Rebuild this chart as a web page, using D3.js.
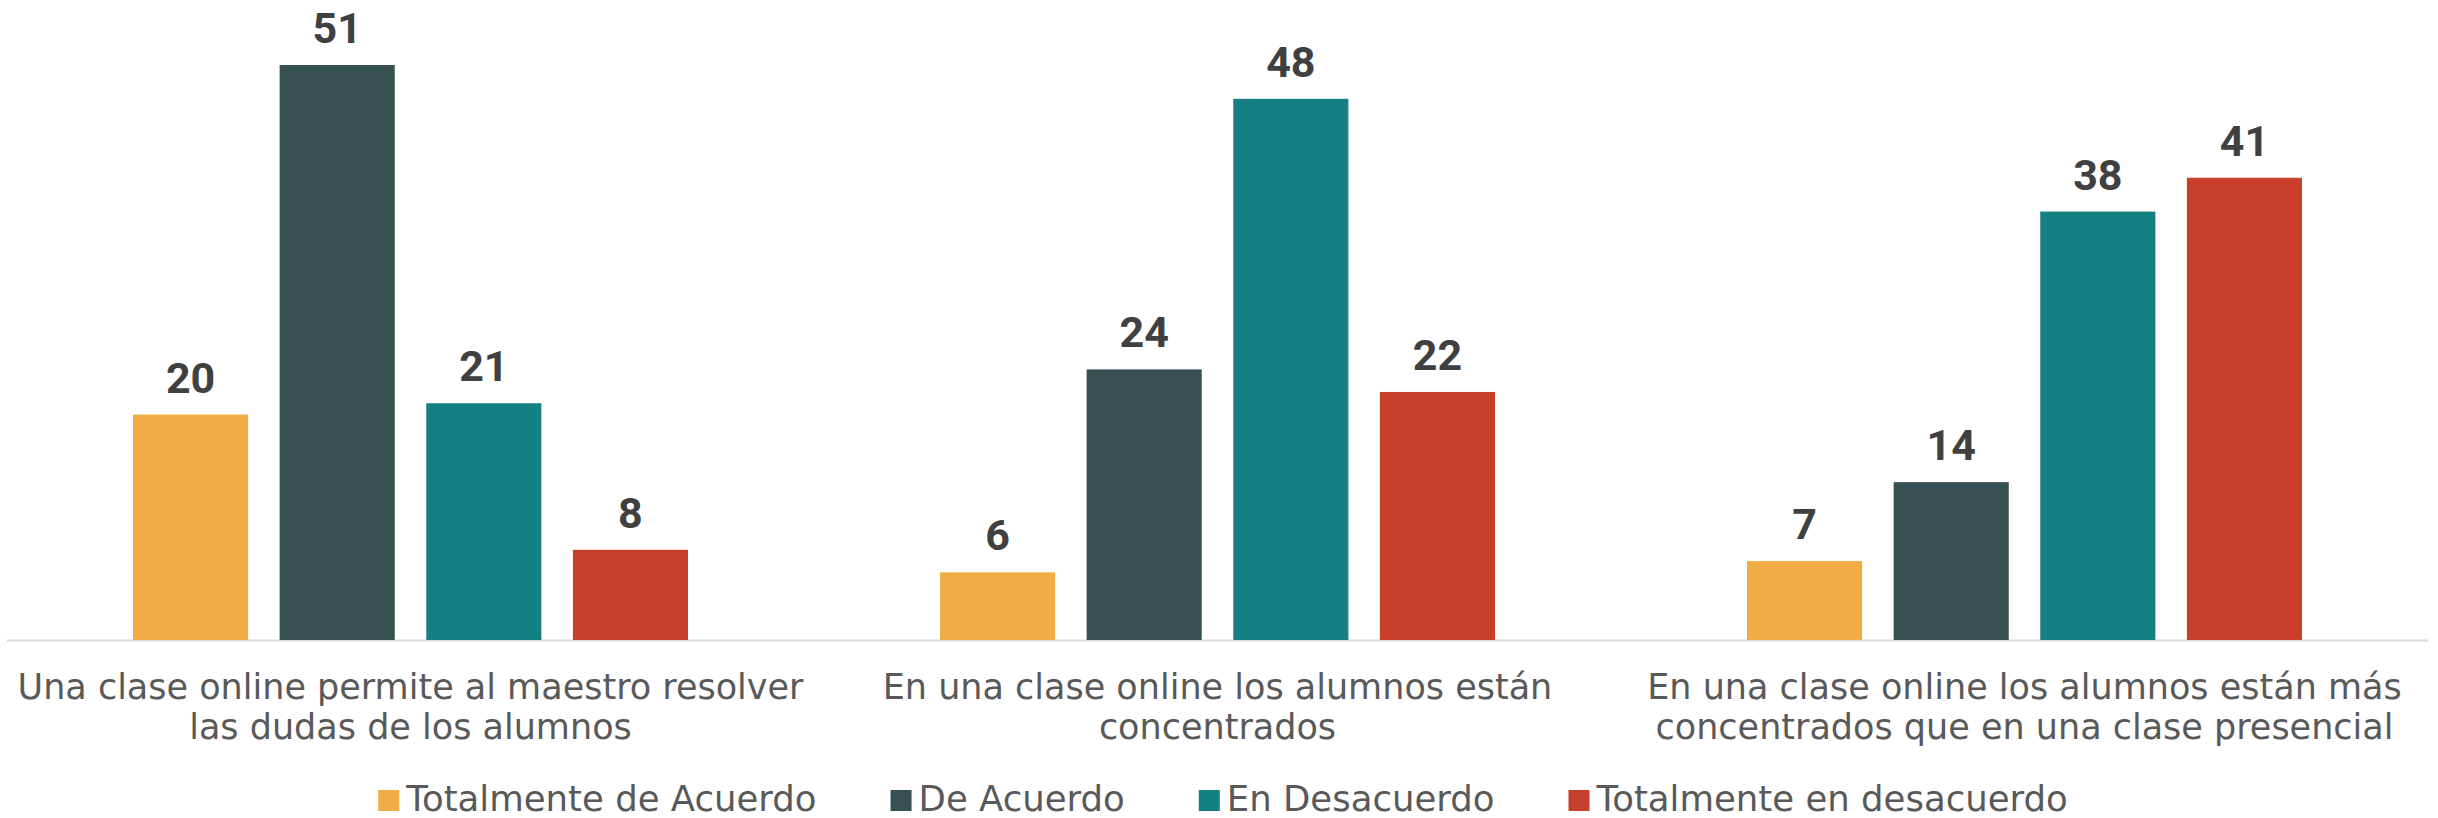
<!DOCTYPE html>
<html>
<head>
<meta charset="utf-8">
<script src="https://cdn.jsdelivr.net/npm/d3@7"></script>
<style>
  body { margin: 0; background: #fff; }
  svg { display: block; }
</style>
</head>
<body>
<div id="chart"></div>
<script>
const categories = [
    ["Una clase online permite al maestro resolver", "las dudas de los alumnos"],
    ["En una clase online los alumnos están", "concentrados"],
    ["En una clase online los alumnos están más", "concentrados que en una clase presencial"]
];
const seriesNames = ["Totalmente de Acuerdo", "De Acuerdo", "En Desacuerdo", "Totalmente en desacuerdo"];
const seriesColors = ["#F0AD45", "#375052", "#148084", "#C8402C"];
const totalmenteAcuerdo = [20, 6, 7];
const deAcuerdo = [51, 24, 14];
const enDesacuerdo = [21, 48, 38];
const totalmenteDesacuerdo = [8, 22, 41];

const seriesValues = [totalmenteAcuerdo, deAcuerdo, enDesacuerdo, totalmenteDesacuerdo];

const width = 2438, height = 818;
const svg = d3.select("#chart").append("svg")
    .attr("width", width)
    .attr("height", height);

const x0 = d3.scaleBand()
    .domain(d3.range(categories.length))
    .range([7, 2428]);

const x1 = d3.scaleBand()
    .domain(d3.range(seriesNames.length))
    .range([126, x0.bandwidth() - 126])
    .paddingInner(0.215);

const y = d3.scaleLinear()
    .domain([0, 51])
    .range([640, 65]);

// baseline
svg.append("line")
    .attr("x1", x0.range()[0]).attr("x2", x0.range()[1])
    .attr("y1", y(0) + 0.5).attr("y2", y(0) + 0.5)
    .attr("stroke", "#d9d9d9")
    .attr("stroke-width", 2);

const groups = svg.selectAll("g.cat")
    .data(categories)
    .join("g")
    .attr("class", "cat")
    .attr("transform", (d, i) => `translate(${x0(i)},0)`);

groups.each(function(cat, ci) {
    const g = d3.select(this);
    const rows = seriesValues.map((vals, si) => ({ si, v: vals[ci] }));
    g.selectAll("rect")
        .data(rows)
        .join("rect")
        .attr("x", d => x1(d.si))
        .attr("y", d => y(d.v))
        .attr("width", x1.bandwidth())
        .attr("height", d => y(0) - y(d.v))
        .attr("fill", d => seriesColors[d.si]);
    g.selectAll("text.val")
        .data(rows)
        .join("text")
        .attr("class", "val")
        .attr("x", d => x1(d.si) + x1.bandwidth() / 2)
        .attr("y", d => y(d.v) - 22)
        .attr("text-anchor", "middle")
        .attr("font-family", "Roboto, 'Liberation Sans', sans-serif")
        .attr("font-weight", "bold")
        .attr("font-size", 43)
        .attr("fill", "#404040")
        .text(d => d.v);
    const lab = g.append("text")
        .attr("text-anchor", "middle")
        .attr("font-family", "'DejaVu Sans', sans-serif")
        .attr("font-size", 35)
        .attr("fill", "#595959");
    cat.forEach((line, li) => {
        lab.append("tspan")
            .attr("x", x0.bandwidth() / 2)
            .attr("y", 699 + li * 40)
            .text(line);
    });
});

// legend
const legend = svg.append("g");
let lx = 0;
seriesNames.forEach((name, i) => {
    const item = legend.append("g").attr("transform", `translate(${lx},0)`);
    item.append("rect")
        .attr("x", 0).attr("y", 790)
        .attr("width", 21).attr("height", 21)
        .attr("fill", seriesColors[i]);
    const t = item.append("text")
        .attr("x", 28).attr("y", 811)
        .attr("font-family", "'DejaVu Sans', sans-serif")
        .attr("font-size", 35.5)
        .attr("fill", "#595959")
        .text(name);
    lx += 28 + t.node().getComputedTextLength() + 74;
});
const legendW = lx - 74;
legend.attr("transform", `translate(${1223 - legendW / 2},0)`);
</script>
</body>
</html>
